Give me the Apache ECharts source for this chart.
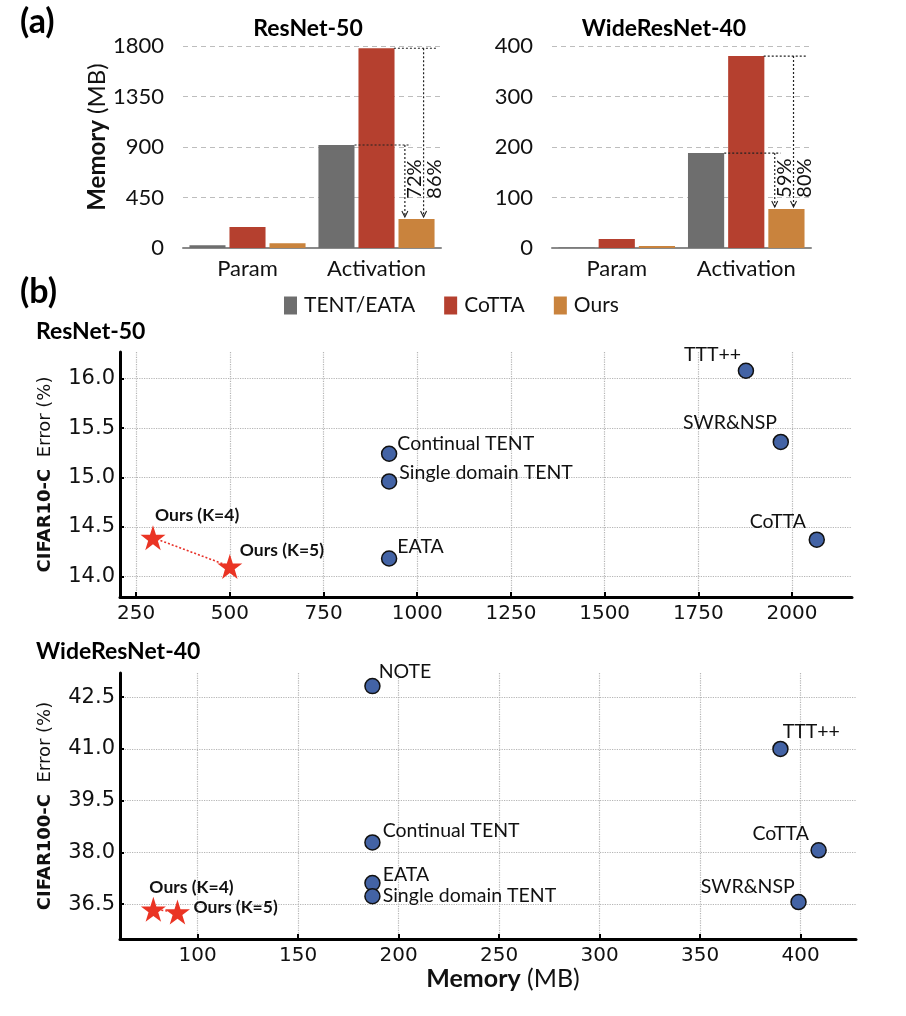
<!DOCTYPE html>
<html>
<head>
<meta charset="utf-8">
<script src="https://cdn.jsdelivr.net/npm/echarts@6/dist/echarts.min.js"></script>
<style>
  html, body { margin: 0; padding: 0; background: #fff; }
  #chart { width: 906px; height: 1016px; }
</style>
</head>
<body>
<div id="chart"></div>
<script>
// ---------------- data ----------------
const barCategories = ['Param', 'Activation'];
const methodNames = ['TENT/EATA', 'CoTTA', 'Ours'];

const r50Tent  = [25, 918];
const r50Cotta = [187, 1780];
const r50Ours  = [42, 258];
const r50Pct   = ['72%', '86%'];
const r50BarTicks = [0, 450, 900, 1350, 1800];

const wrnTent  = [1, 188];
const wrnCotta = [18, 380];
const wrnOurs  = [4, 77];
const wrnPct   = ['59%', '80%'];
const wrnBarTicks = [0, 100, 200, 300, 400];

const r50Names = ['TTT++', 'SWR&NSP', 'Continual TENT', 'Single domain TENT', 'EATA', 'CoTTA'];
const r50Mem   = [1877, 1970, 925, 925, 925, 2066];
const r50Err   = [16.08, 15.36, 15.24, 14.96, 14.18, 14.37];
const r50OursNames = ['Ours (K=4)', 'Ours (K=5)'];
const r50OursMem   = [295, 500];
const r50OursErr   = [14.39, 14.10];
const r50XTicks = [250, 500, 750, 1000, 1250, 1500, 1750, 2000];
const r50YTicks = [14.0, 14.5, 15.0, 15.5, 16.0];

const wrnNames = ['NOTE', 'TTT++', 'Continual TENT', 'CoTTA', 'EATA', 'Single domain TENT', 'SWR&NSP'];
const wrnMem   = [187, 390, 187, 409, 187, 187, 399];
const wrnErr   = [42.82, 41.0, 38.29, 38.06, 37.11, 36.73, 36.56];
const wrnOursNames = ['Ours (K=4)', 'Ours (K=5)'];
const wrnOursMem   = [78, 90];
const wrnOursErr   = [36.35, 36.27];
const wrnXTicks = [100, 150, 200, 250, 300, 350, 400];
const wrnYTicks = [36.5, 38.0, 39.5, 41.0, 42.5];

// ---------------- styles / layout ----------------
const CAL = 'Lato, "Open Sans", sans-serif';
const DJV = '"DejaVu Sans", sans-serif';
const COLORS = ['#6e6e6e', '#b5402f', '#c9833d'];
const STAR = 'path://M50,0 L61.8,35.4 L99,35.4 L69,57.3 L80.4,92.7 L50,70.8 L19.6,92.7 L31,57.3 L1,35.4 L38.2,35.4 Z';

// label placement: [align, dx from point centre, dy]
const r50LabelPos = {
  'TTT++': ['right', -4, -15],
  'SWR&NSP': ['right', -3, -18],
  'Continual TENT': ['left', 9, -9],
  'Single domain TENT': ['left', 11, -8],
  'EATA': ['left', 9, -11],
  'CoTTA': ['right', -10, -17],
  'Ours (K=4)': ['left', 2, -22],
  'Ours (K=5)': ['left', 10, -16]
};
const wrnLabelPos = {
  'NOTE': ['left', 7, -14],
  'TTT++': ['left', 3, -16],
  'Continual TENT': ['left', 11, -11],
  'CoTTA': ['right', -9, -16],
  'EATA': ['left', 11, -8],
  'Single domain TENT': ['left', 11, 0],
  'SWR&NSP': ['right', -3, -15],
  'Ours (K=4)': ['left', -4, -22],
  'Ours (K=5)': ['left', 16, -5]
};

function pointData(names, mem, err, placement, size, bold) {
  return names.map((n, i) => {
    const p = placement[n];
    const h = size / 2;
    return {
      name: n,
      value: [mem[i], err[i]],
      label: {
        show: true,
        formatter: n,
        position: [h + p[1], h + p[2]],
        align: p[0],
        verticalAlign: 'middle',
        fontFamily: CAL,
        fontSize: bold ? 17.5 : 19.5,
        fontWeight: bold ? 'bold' : 'normal',
        color: '#111'
      }
    };
  });
}

function annoRenderer(tent, cotta, ours, pct) {
  return function (params, api) {
    const c = api.coord([1, 0])[0];
    const bw = api.size([1, 0])[0];
    const yR = api.coord([1, cotta[1]])[1];
    const yG = api.coord([1, tent[1]])[1];
    const yO = api.coord([1, ours[1]])[1] - 2;
    const ls = { stroke: '#222', lineWidth: 1.2, lineDash: [2, 2] };
    const as = { stroke: '#222', lineWidth: 1.1, fill: null };
    const v1 = c + 0.22 * bw, v2 = c + 0.365 * bw;
    const ty = (yG + yO) / 2 - 2;
    const children = [
      { type: 'line', shape: { x1: c + 0.135 * bw, y1: yR, x2: c + 0.47 * bw, y2: yR }, style: ls },
      { type: 'line', shape: { x1: v2, y1: yR, x2: v2, y2: yO }, style: ls },
      { type: 'polyline', shape: { points: [[v2 - 3, yO - 6], [v2, yO], [v2 + 3, yO - 6]] }, style: as },
      { type: 'line', shape: { x1: c - 0.17 * bw, y1: yG, x2: c + 0.265 * bw, y2: yG }, style: ls },
      { type: 'line', shape: { x1: v1, y1: yG, x2: v1, y2: yO }, style: ls },
      { type: 'polyline', shape: { points: [[v1 - 3, yO - 6], [v1, yO], [v1 + 3, yO - 6]] }, style: as },
      { type: 'text', x: c + 0.295 * bw, y: ty, rotation: Math.PI / 2,
        style: { text: pct[0], x: 0, y: 0, align: 'center', verticalAlign: 'middle', fill: '#111', fontSize: 20, fontFamily: CAL } },
      { type: 'text', x: c + 0.45 * bw, y: ty, rotation: Math.PI / 2,
        style: { text: pct[1], x: 0, y: 0, align: 'center', verticalAlign: 'middle', fill: '#111', fontSize: 20, fontFamily: CAL } }
    ];
    return { type: 'group', children: children };
  };
}

function barSeries(xi, arrs) {
  return arrs.map((a, k) => ({
    type: 'bar', name: methodNames[k], xAxisIndex: xi, yAxisIndex: xi,
    data: a, itemStyle: { color: COLORS[k] },
    barCategoryGap: '10%', barGap: '11%', silent: true
  }));
}

const barYAxisBase = {
  type: 'value', min: 0,
  axisLine: { show: false }, axisTick: { show: false },
  splitLine: { lineStyle: { type: [5, 4], color: '#bdbdbd', width: 1.2 } },
  axisLabel: { fontFamily: CAL, fontSize: 22, color: '#111', margin: 19, formatter: v => String(v) }
};
const barXAxisBase = {
  type: 'category', data: barCategories,
  axisLine: { lineStyle: { color: '#8a8a8a', width: 2 } },
  axisTick: { show: false },
  axisLabel: { fontFamily: CAL, fontSize: 22, color: '#111', margin: 10 }
};

function sXAxis(gi, min, max, ticks, extra) {
  return Object.assign({
    type: 'value', gridIndex: gi, min: min, max: max,
    axisLine: { lineStyle: { color: '#000', width: 3 } },
    axisTick: { inside: true, length: 5, lineStyle: { color: '#000', width: 2 }, customValues: ticks },
    axisLabel: { customValues: ticks, formatter: v => String(v), fontFamily: DJV, fontSize: 20, color: '#111', margin: 7 },
    splitLine: { show: true, lineStyle: { type: 'dotted', color: '#b5b5b5', width: 1.2 } }
  }, extra || {});
}
function sYAxis(gi, min, max, ticks, name) {
  return {
    type: 'value', gridIndex: gi, min: min, max: max,
    axisLine: { show: true, lineStyle: { color: '#000', width: 3 } },
    axisTick: { show: true, inside: true, length: 4, lineStyle: { color: '#000', width: 2 }, customValues: ticks },
    axisLabel: { customValues: ticks, formatter: v => v.toFixed(1), fontFamily: DJV, fontSize: 21, color: '#111', margin: 5 },
    splitLine: { show: true, lineStyle: { type: 'dotted', color: '#b5b5b5', width: 1.2 } },
    name: name, nameLocation: 'middle', nameRotate: 90, nameGap: 66,
    nameTextStyle: { rich: {
      b: { fontFamily: DJV, fontWeight: 'bold', fontSize: 18, color: '#111' },
      n: { fontFamily: DJV, fontSize: 18, color: '#111' }
    } }
  };
}

const option = {
  animation: false,
  backgroundColor: '#fff',
  legend: {
    data: methodNames, left: 279, top: 290, icon: 'rect',
    itemWidth: 13, itemHeight: 18, itemGap: 29, selectedMode: false,
    textStyle: { fontFamily: CAL, fontSize: 21, color: '#111', padding: [0, 0, 0, 2] }
  },
  graphic: [
    { type: 'text', x: 20, y: 22, style: { text: '(a)', fontFamily: CAL, fontWeight: 'bold', fontSize: 34, fill: '#000', verticalAlign: 'middle' } },
    { type: 'text', x: 20, y: 292, style: { text: '(b)', fontFamily: CAL, fontWeight: 'bold', fontSize: 34, fill: '#000', verticalAlign: 'middle' } },
    { type: 'text', x: 308, y: 29, style: { text: 'ResNet-50', fontFamily: CAL, fontWeight: 'bold', fontSize: 23, fill: '#000', align: 'center', verticalAlign: 'middle' } },
    { type: 'text', x: 664, y: 29, style: { text: 'WideResNet-40', fontFamily: CAL, fontWeight: 'bold', fontSize: 23, fill: '#000', align: 'center', verticalAlign: 'middle' } },
    { type: 'text', x: 36, y: 332, style: { text: 'ResNet-50', fontFamily: CAL, fontWeight: 'bold', fontSize: 23, fill: '#000', verticalAlign: 'middle' } },
    { type: 'text', x: 36, y: 652, style: { text: 'WideResNet-40', fontFamily: CAL, fontWeight: 'bold', fontSize: 23, fill: '#000', verticalAlign: 'middle' } }
  ],
  grid: [
    { left: 183, top: 46, width: 258, height: 202 },
    { left: 552, top: 46, width: 259, height: 202 },
    { left: 120, top: 352, width: 732, height: 245 },
    { left: 120, top: 673, width: 736, height: 266 }
  ],
  xAxis: [
    Object.assign({ gridIndex: 0 }, barXAxisBase),
    Object.assign({ gridIndex: 1 }, barXAxisBase),
    sXAxis(2, 207, 2160, r50XTicks),
    sXAxis(3, 61.4, 427.6, wrnXTicks, {
      name: '{b|Memory}{n| (MB)}', nameLocation: 'middle', nameGap: 27,
      nameTextStyle: { padding: [0, 0, 0, 30], rich: {
        b: { fontFamily: CAL, fontWeight: 'bold', fontSize: 25, color: '#111' },
        n: { fontFamily: CAL, fontSize: 25, color: '#111' }
      } }
    })
  ],
  yAxis: [
    Object.assign({}, barYAxisBase, {
      gridIndex: 0, max: r50BarTicks[r50BarTicks.length - 1], interval: r50BarTicks[1] - r50BarTicks[0],
      name: '{b|Memory}{n| (MB)}', nameLocation: 'middle', nameRotate: 90, nameGap: 72,
      nameTextStyle: { padding: [0, 0, 0, 20], rich: {
        b: { fontFamily: CAL, fontWeight: 'bold', fontSize: 24, color: '#111' },
        n: { fontFamily: CAL, fontSize: 24, color: '#111' }
      } }
    }),
    Object.assign({}, barYAxisBase, {
      gridIndex: 1, max: wrnBarTicks[wrnBarTicks.length - 1], interval: wrnBarTicks[1] - wrnBarTicks[0]
    }),
    sYAxis(2, 13.79, 16.27, r50YTicks, '{b|CIFAR10-C}{n|  Error (%)}'),
    sYAxis(3, 35.49, 43.2, wrnYTicks, '{b|CIFAR100-C}{n|  Error (%)}')
  ],
  series: [].concat(
    barSeries(0, [r50Tent, r50Cotta, r50Ours]),
    barSeries(1, [wrnTent, wrnCotta, wrnOurs]),
    [
      { type: 'custom', xAxisIndex: 0, yAxisIndex: 0, data: [[1, 0]], z: 10, silent: true, clip: false,
        renderItem: annoRenderer(r50Tent, r50Cotta, r50Ours, r50Pct) },
      { type: 'custom', xAxisIndex: 1, yAxisIndex: 1, data: [[1, 0]], z: 10, silent: true, clip: false,
        renderItem: annoRenderer(wrnTent, wrnCotta, wrnOurs, wrnPct) },

      { type: 'scatter', xAxisIndex: 2, yAxisIndex: 2, symbol: 'circle', symbolSize: 15, z: 5,
        itemStyle: { color: '#4363a5', borderColor: '#111', borderWidth: 1.5, opacity: 1 },
        data: pointData(r50Names, r50Mem, r50Err, r50LabelPos, 15, false) },
      { type: 'line', xAxisIndex: 2, yAxisIndex: 2, symbol: 'none', z: 4, silent: true,
        lineStyle: { type: [2, 2], color: '#e8322a', width: 1.6 },
        data: r50OursMem.map((m, i) => [m, r50OursErr[i]]) },
      { type: 'scatter', xAxisIndex: 2, yAxisIndex: 2, symbol: STAR, symbolSize: 25, z: 6,
        itemStyle: { color: '#ea3424', opacity: 1 },
        data: pointData(r50OursNames, r50OursMem, r50OursErr, r50LabelPos, 25, true) },

      { type: 'scatter', xAxisIndex: 3, yAxisIndex: 3, symbol: 'circle', symbolSize: 15, z: 5,
        itemStyle: { color: '#4363a5', borderColor: '#111', borderWidth: 1.5, opacity: 1 },
        data: pointData(wrnNames, wrnMem, wrnErr, wrnLabelPos, 15, false) },
      { type: 'line', xAxisIndex: 3, yAxisIndex: 3, symbol: 'none', z: 4, silent: true,
        lineStyle: { type: [2, 2], color: '#e8322a', width: 1.6 },
        data: wrnOursMem.map((m, i) => [m, wrnOursErr[i]]) },
      { type: 'scatter', xAxisIndex: 3, yAxisIndex: 3, symbol: STAR, symbolSize: 25, z: 6,
        itemStyle: { color: '#ea3424', opacity: 1 },
        data: pointData(wrnOursNames, wrnOursMem, wrnOursErr, wrnLabelPos, 25, true) }
    ]
  )
};

const chart = echarts.init(document.getElementById('chart'), null, { renderer: 'canvas' });
chart.setOption(option);
</script>
</body>
</html>
